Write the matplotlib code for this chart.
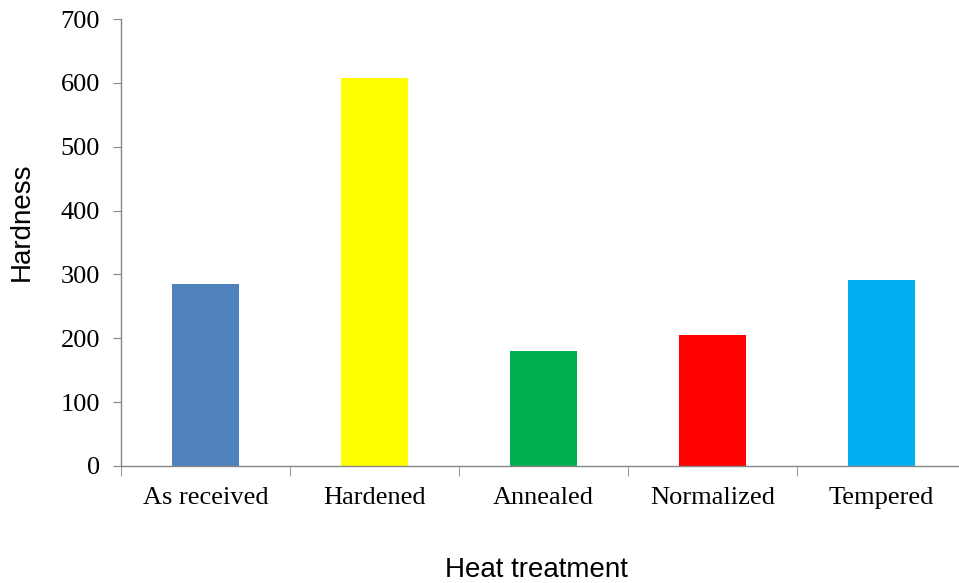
import matplotlib
matplotlib.use('Agg')
import matplotlib.pyplot as plt

# Data
treatments = ['As received', 'Hardened', 'Annealed', 'Normalized', 'Tempered']
hardness = [285, 607, 180, 205, 291]
bar_colors = ['#4f81bd', '#ffff00', '#00b050', '#ff0000', '#00b0f0']

fig = plt.figure(figsize=(9.59, 5.83), dpi=100)
# axes slightly overruns the right edge, as in the reference
ax = fig.add_axes([121 / 959, 1 - 466 / 583, 845 / 959, 447 / 583])

x = range(len(treatments))
ax.bar(x, hardness, width=0.40, color=bar_colors, zorder=2)

ax.set_xlim(-0.5, len(treatments) - 0.5)
ax.set_ylim(0, 700)
ax.set_yticks(range(0, 701, 100))

# category labels centred, ticks at category boundaries
ax.set_xticks(list(x))
ax.set_xticklabels(treatments, fontfamily='Liberation Serif', fontsize=19)
ax.tick_params(axis='x', which='major', length=0, pad=15)
ax.set_xticks([i - 0.5 for i in range(len(treatments) + 1)], minor=True)
ax.tick_params(axis='x', which='minor', length=7, color='#868686', direction='out')

ax.tick_params(axis='y', length=6, color='#868686', direction='out', pad=9)
for lbl in ax.get_yticklabels():
    lbl.set_fontfamily('Liberation Serif')
    lbl.set_fontsize(19)

for side in ['top', 'right']:
    ax.spines[side].set_visible(False)
for side in ['left', 'bottom']:
    ax.spines[side].set_color('#868686')
    ax.spines[side].set_linewidth(1.0)

fig.text(536 / 959, 1 - 570 / 583, 'Heat treatment', fontfamily='Liberation Sans',
         fontsize=20, ha='center', va='center')
fig.text(22 / 959, 1 - 222 / 583, 'Hardness', fontfamily='Liberation Sans',
         fontsize=20, ha='center', va='center', rotation=90)

fig.savefig('out.png', dpi=100)
